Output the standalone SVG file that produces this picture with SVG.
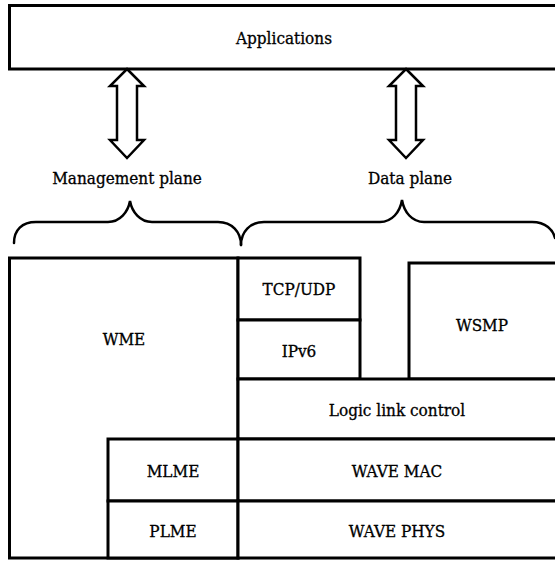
<svg xmlns="http://www.w3.org/2000/svg" width="555" height="562" viewBox="0 0 555 562">
  <style>
    .box { fill: #fff; stroke: #000; stroke-width: 3; }
    .arrow { fill: #fff; stroke: #000; stroke-width: 2.5; stroke-linejoin: miter; }
    .brace { fill: none; stroke: #000; stroke-width: 2.5; stroke-linecap: round; }
    .lbl { font-family: "DejaVu Serif Condensed", "DejaVu Serif", serif; font-stretch: condensed; font-size: 17px; fill: #000; text-anchor: middle; stroke: #000; stroke-width: 0.3; }
  </style>
  <defs>
    <!-- double-headed hollow arrow, centred on x=0 -->
    <path id="dblArrow" d="M0,69 L17,86 L10,86 L10,140 L17,140 L0,158 L-17,140 L-10,140 L-10,86 L-17,86 Z"/>
  </defs>
  <rect width="555" height="562" fill="#fff"/>

  <g id="applications">
    <rect class="box" x="9.5" y="5.5" width="560" height="63.5"/>
    <text class="lbl" x="284" y="44">Applications</text>
  </g>

  <g id="connectors">
    <use href="#dblArrow" class="arrow" x="127"/>
    <use href="#dblArrow" class="arrow" x="406"/>
    <path class="brace" d="M14,243 C14,230 22,222 36,222 L108,222 C120,222 128,212 130,201 C132,212 140,222 152,222 L218,222 C232,222 241,232 241,245"/>
    <path class="brace" d="M241,245 C241,232 250,222 264,222 L380,222 C392,222 400,212 402,200 C404,212 412,222 424,222 L532,222 C546,222 553,230 555,238"/>
  </g>

  <g id="management-plane">
    <text class="lbl" x="127" y="184">Management plane</text>
  </g>
  <g id="data-plane">
    <text class="lbl" x="410" y="184">Data plane</text>
  </g>

  <g id="wme">
    <rect class="box" x="9.5" y="258" width="228.5" height="300"/>
    <text class="lbl" x="124" y="345">WME</text>
  </g>
  <g id="tcp-udp">
    <rect class="box" x="238" y="258" width="122" height="62"/>
    <text class="lbl" x="299" y="295">TCP/UDP</text>
  </g>
  <g id="ipv6">
    <rect class="box" x="238" y="320" width="122" height="59"/>
    <text class="lbl" x="299" y="357">IPv6</text>
  </g>
  <g id="wsmp">
    <rect class="box" x="409" y="263" width="160" height="116"/>
    <text class="lbl" x="482" y="331">WSMP</text>
  </g>
  <g id="logic-link-control">
    <rect class="box" x="238" y="379" width="331" height="60"/>
    <text class="lbl" x="397" y="416">Logic link control</text>
  </g>
  <g id="mlme">
    <rect class="box" x="108" y="439" width="130" height="62"/>
    <text class="lbl" x="173" y="477">MLME</text>
  </g>
  <g id="wave-mac">
    <rect class="box" x="238" y="439" width="331" height="62"/>
    <text class="lbl" x="397" y="477">WAVE MAC</text>
  </g>
  <g id="plme">
    <rect class="box" x="108" y="501" width="130" height="57"/>
    <text class="lbl" x="173" y="537">PLME</text>
  </g>
  <g id="wave-phys">
    <rect class="box" x="238" y="501" width="331" height="57"/>
    <text class="lbl" x="397" y="537">WAVE PHYS</text>
  </g>
</svg>
